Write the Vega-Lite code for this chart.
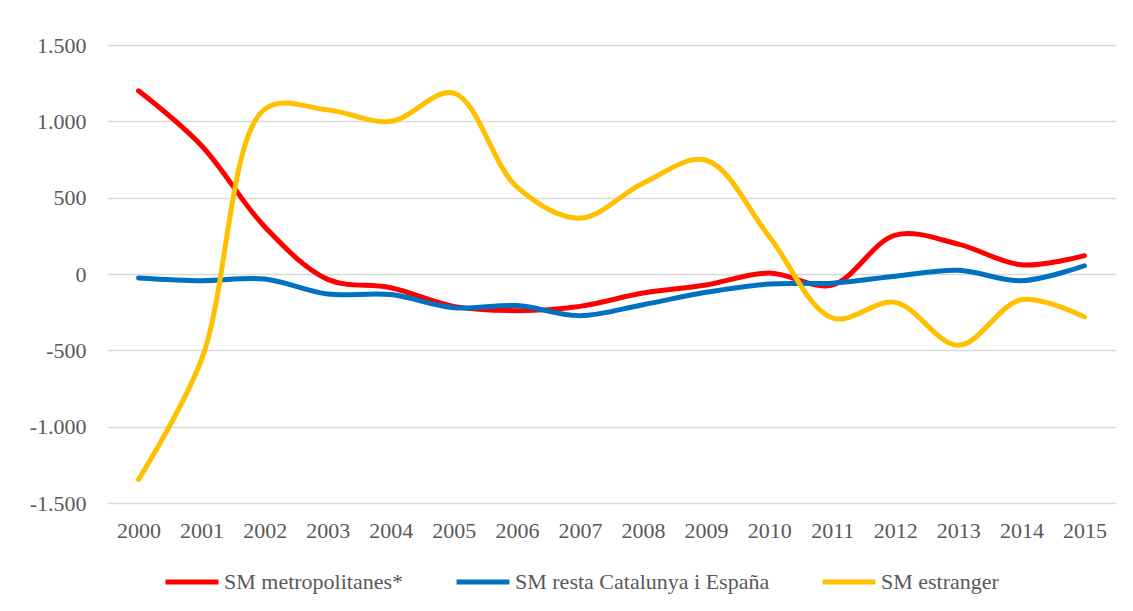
{
  "$schema": "https://vega.github.io/schema/vega-lite/v6.json",
  "width": 1009,
  "height": 458,
  "autosize": {"type": "none"},
  "padding": {"left": 107, "top": 45, "right": 17, "bottom": 108},
  "background": "white",
  "config": {
    "view": {"stroke": null},
    "font": "Liberation Serif",
    "axis": {"labelFont": "Liberation Serif"},
    "legend": {"labelFont": "Liberation Serif"}
  },
  "data": {
    "values": [
      {"year": "2000", "serie": "SM metropolitanes*", "value": 1200},
      {"year": "2001", "serie": "SM metropolitanes*", "value": 840},
      {"year": "2002", "serie": "SM metropolitanes*", "value": 310},
      {"year": "2003", "serie": "SM metropolitanes*", "value": -35},
      {"year": "2004", "serie": "SM metropolitanes*", "value": -90},
      {"year": "2005", "serie": "SM metropolitanes*", "value": -212},
      {"year": "2006", "serie": "SM metropolitanes*", "value": -240},
      {"year": "2007", "serie": "SM metropolitanes*", "value": -212},
      {"year": "2008", "serie": "SM metropolitanes*", "value": -125},
      {"year": "2009", "serie": "SM metropolitanes*", "value": -72},
      {"year": "2010", "serie": "SM metropolitanes*", "value": 6},
      {"year": "2011", "serie": "SM metropolitanes*", "value": -72},
      {"year": "2012", "serie": "SM metropolitanes*", "value": 255},
      {"year": "2013", "serie": "SM metropolitanes*", "value": 196},
      {"year": "2014", "serie": "SM metropolitanes*", "value": 60},
      {"year": "2015", "serie": "SM metropolitanes*", "value": 120},
      {"year": "2000", "serie": "SM resta Catalunya i España", "value": -26},
      {"year": "2001", "serie": "SM resta Catalunya i España", "value": -44},
      {"year": "2002", "serie": "SM resta Catalunya i España", "value": -33},
      {"year": "2003", "serie": "SM resta Catalunya i España", "value": -131},
      {"year": "2004", "serie": "SM resta Catalunya i España", "value": -135},
      {"year": "2005", "serie": "SM resta Catalunya i España", "value": -221},
      {"year": "2006", "serie": "SM resta Catalunya i España", "value": -207},
      {"year": "2007", "serie": "SM resta Catalunya i España", "value": -273},
      {"year": "2008", "serie": "SM resta Catalunya i España", "value": -201},
      {"year": "2009", "serie": "SM resta Catalunya i España", "value": -120},
      {"year": "2010", "serie": "SM resta Catalunya i España", "value": -66},
      {"year": "2011", "serie": "SM resta Catalunya i España", "value": -60},
      {"year": "2012", "serie": "SM resta Catalunya i España", "value": -15},
      {"year": "2013", "serie": "SM resta Catalunya i España", "value": 24},
      {"year": "2014", "serie": "SM resta Catalunya i España", "value": -44},
      {"year": "2015", "serie": "SM resta Catalunya i España", "value": 54},
      {"year": "2000", "serie": "SM estranger", "value": -1346},
      {"year": "2001", "serie": "SM estranger", "value": -560},
      {"year": "2002", "serie": "SM estranger", "value": 1080},
      {"year": "2003", "serie": "SM estranger", "value": 1075},
      {"year": "2004", "serie": "SM estranger", "value": 1000},
      {"year": "2005", "serie": "SM estranger", "value": 1185},
      {"year": "2006", "serie": "SM estranger", "value": 570},
      {"year": "2007", "serie": "SM estranger", "value": 366},
      {"year": "2008", "serie": "SM estranger", "value": 595},
      {"year": "2009", "serie": "SM estranger", "value": 745},
      {"year": "2010", "serie": "SM estranger", "value": 246},
      {"year": "2011", "serie": "SM estranger", "value": -288},
      {"year": "2012", "serie": "SM estranger", "value": -186},
      {"year": "2013", "serie": "SM estranger", "value": -467},
      {"year": "2014", "serie": "SM estranger", "value": -168},
      {"year": "2015", "serie": "SM estranger", "value": -281}
    ]
  },
  "mark": {"type": "line", "interpolate": "catmull-rom", "strokeWidth": 5, "strokeCap": "round"},
  "encoding": {
    "x": {
      "field": "year",
      "type": "ordinal",
      "scale": {"type": "point", "padding": 0.5},
      "axis": {
        "title": null,
        "labelAngle": 0,
        "domain": false,
        "ticks": false,
        "labelPadding": 17,
        "labelFontSize": 22,
        "labelColor": "#595959"
      }
    },
    "y": {
      "field": "value",
      "type": "quantitative",
      "scale": {"domain": [-1500, 1500], "nice": false, "zero": false},
      "axis": {
        "title": null,
        "values": [-1500, -1000, -500, 0, 500, 1000, 1500],
        "domain": false,
        "ticks": false,
        "labelPadding": 21,
        "grid": true,
        "gridColor": "#d9d9d9",
        "gridWidth": 1.5,
        "labelFontSize": 22,
        "labelColor": "#595959",
        "labelExpr": "(datum.value < 0 ? '-' : '') + replace(format(abs(datum.value), ','), ',', '.')"
      }
    },
    "color": {
      "field": "serie",
      "type": "nominal",
      "scale": {
        "domain": ["SM metropolitanes*", "SM resta Catalunya i España", "SM estranger"],
        "range": ["#FF0000", "#0070C0", "#FFC000"]
      },
      "legend": {
        "title": null,
        "orient": "none",
        "direction": "horizontal",
        "legendX": 56,
        "legendY": 508,
        "symbolType": "stroke",
        "symbolSize": 2800,
        "symbolStrokeWidth": 5,
        "labelOffset": 3,
        "columnPadding": 42,
        "labelFontSize": 22,
        "labelColor": "#595959",
        "labelLimit": 400
      }
    }
  }
}
